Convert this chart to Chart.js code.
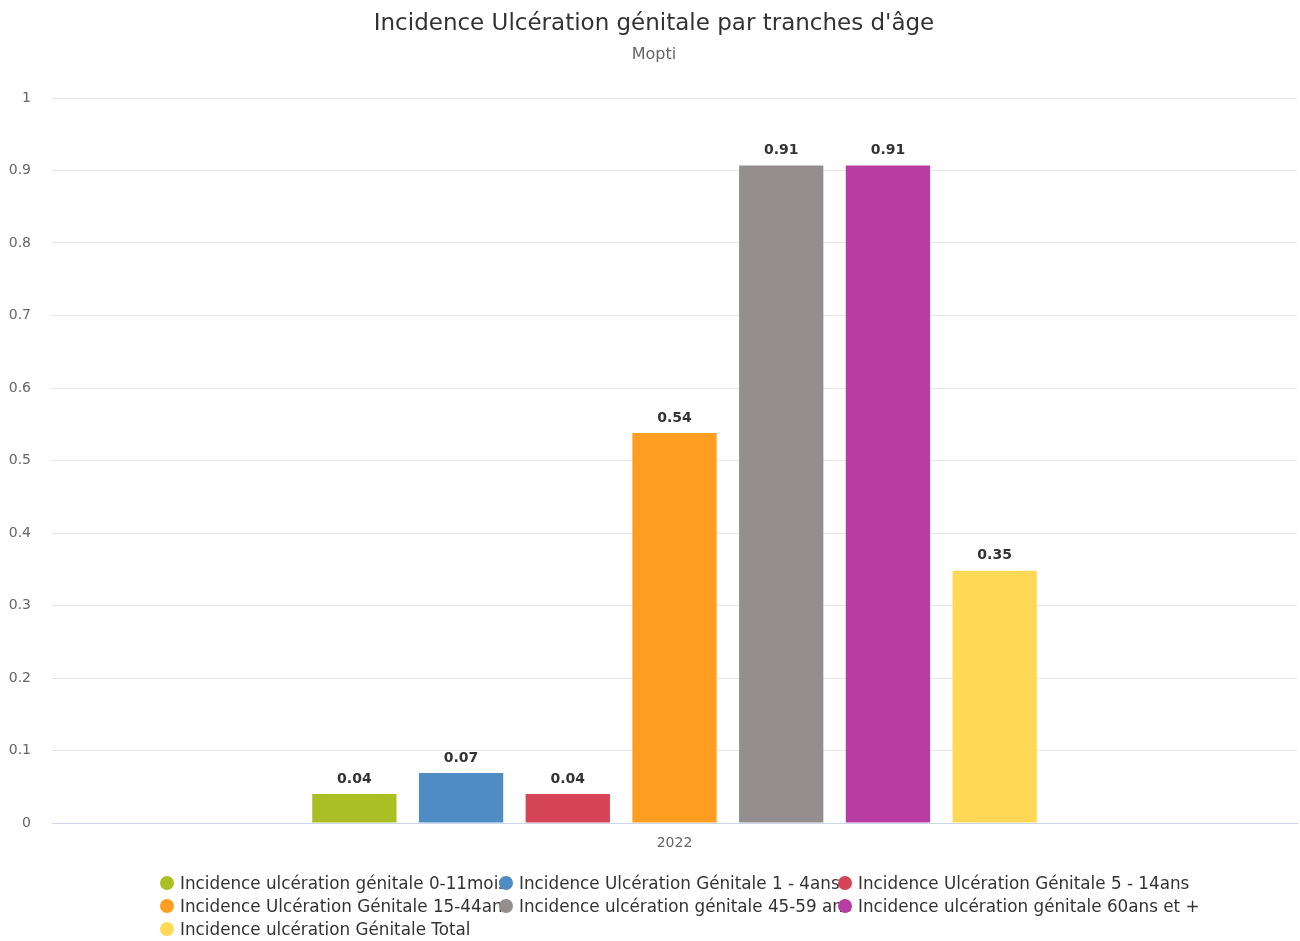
<!DOCTYPE html>
<html>
<head>
<meta charset="utf-8">
<script src="https://cdn.jsdelivr.net/npm/chart.js@4"></script>
<style>
html,body{margin:0;padding:0;background:#fff;}
#wrap{position:relative;width:1300px;height:941px;}
#legende{position:absolute;left:0;top:0;width:1300px;height:941px;pointer-events:none;font-family:'DejaVu Sans',sans-serif;font-size:16.8px;color:#333;}
.leg{position:absolute;white-space:nowrap;height:20px;line-height:20px;}
.leg i{position:absolute;left:0;top:3px;width:14px;height:14px;border-radius:50%;}
.leg span{position:absolute;left:20px;top:0;}
</style>
</head>
<body>
<div id="wrap">
  <canvas id="graf" width="1300" height="941"></canvas>
  <div id="legende"></div>
</div>
<script>
// données
const titre="Incidence Ulcération génitale par tranches d'âge";
const sousTitre='Mopti';
const categories=['2022'];
const series=[
  'Incidence ulcération génitale 0-11mois',
  'Incidence Ulcération Génitale 1 - 4ans',
  'Incidence Ulcération Génitale 5 - 14ans',
  'Incidence Ulcération Génitale 15-44ans',
  'Incidence ulcération génitale 45-59 ans',
  'Incidence ulcération génitale 60ans et +',
  'Incidence ulcération Génitale Total'
];
const valeurs=[0.04,0.069,0.04,0.538,0.907,0.907,0.348];
const couleurs=['#A9BF23','#508CC4','#D64457','#FF9E21','#948E8E','#B83CA1','#FFD955'];
const yTicks=[0,0.1,0.2,0.3,0.4,0.5,0.6,0.7,0.8,0.9,1];

const FONTE="'DejaVu Sans', sans-serif";
Chart.defaults.font.family=FONTE;

// titre + sous-titre (centrés comme Highcharts, pas sur la zone Chart.js)
const entete={
  id:'entete',
  afterDraw(chart){
    const ctx=chart.ctx;
    ctx.save();
    ctx.textAlign='center';ctx.textBaseline='middle';
    ctx.fillStyle='#333';ctx.font='23px '+FONTE;
    ctx.fillText(titre,654,24);
    ctx.fillStyle='#666';ctx.font='16px '+FONTE;
    ctx.fillText(sousTitre,654,55);
    ctx.restore();
  }
};

// étiquettes de valeur au-dessus des barres
const etiquettes={
  id:'etiquettes',
  afterDatasetsDraw(chart){
    const ctx=chart.ctx;
    ctx.save();
    ctx.font='bold 14px '+FONTE;
    ctx.fillStyle='#333';
    ctx.textAlign='center';
    ctx.textBaseline='middle';
    chart.data.datasets.forEach((ds,i)=>{
      chart.getDatasetMeta(i).data.forEach((b,j)=>{
        ctx.fillText(ds.data[j].toFixed(2),b.x,b.y-15);
      });
    });
    ctx.restore();
  }
};

new Chart(document.getElementById('graf'),{
  type:'bar',
  data:{
    labels:categories,
    datasets:series.map((s,i)=>({label:s,data:[valeurs[i]],backgroundColor:couleurs[i],borderWidth:0,categoryPercentage:0.6,barPercentage:0.79}))
  },
  options:{
    responsive:false,animation:false,
    layout:{padding:{left:0,right:3,bottom:88,top:98}},
    plugins:{
      legend:{display:false},
      tooltip:{enabled:false}
    },
    scales:{
      x:{
        grid:{display:false},
        border:{display:true,color:'#ccd6eb'},
        ticks:{color:'#666',font:{size:14},padding:4},
        afterFit(s){s.height=30;}
      },
      y:{
        min:0,max:1,
        afterBuildTicks(s){s.ticks=yTicks.map(v=>({value:v}));},
        grid:{color:c=>c.tick&&c.tick.value===0?'#ccd6eb':'#e6e6e6',drawTicks:false},
        border:{display:false},
        ticks:{color:'#666',font:{size:14},padding:21,callback:v=>String(v)},
        afterFit(s){s.width=52;}
      }
    }
  },
  plugins:[etiquettes,entete]
});

// légende façon Highcharts (largeur fixe par élément)
const leg=document.getElementById('legende');
series.forEach((s,i)=>{
  const d=document.createElement('div');
  d.className='leg';
  d.style.left=(160+(i%3)*339)+'px';
  d.style.top=(873+Math.floor(i/3)*23)+'px';
  d.innerHTML='<span>'+s+'</span><i style="background:'+couleurs[i]+'"></i>';
  leg.appendChild(d);
});
</script>
</body>
</html>
